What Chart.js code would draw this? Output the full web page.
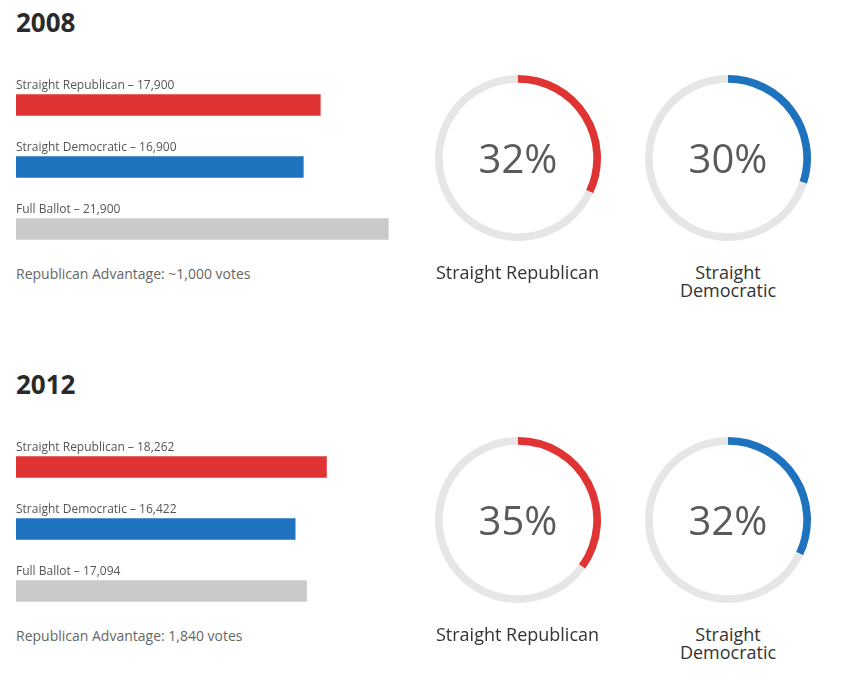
<!DOCTYPE html>
<html>
<head>
<meta charset="utf-8">
<title>Straight Ticket Voting</title>
<script src="https://cdn.jsdelivr.net/npm/chart.js@4.4.1/dist/chart.umd.min.js"></script>
<style>
    html, body { margin: 0; padding: 0; background: #fff; }
    body { font-family: 'Open Sans', sans-serif; width: 862px; height: 679px; overflow: hidden; position: relative; }
    .section { position: absolute; left: 0; width: 862px; height: 362px; }
    .section h2 { position: absolute; left: 16px; top: 9px; margin: 0; font-size: 26px; line-height: 26px; font-weight: 700; color: #2a2a2a; }
    .section canvas { position: absolute; }
    .advantage { position: absolute; left: 16px; top: 267px; font-size: 14px; line-height: 14px; color: #666; white-space: nowrap; }
    .caption { position: absolute; top: 263px; font-size: 18px; line-height: 18px; color: #333; text-align: center; }
</style>
</head>
<body>
<div id="page"></div>
<script>
// values
var years = ['2008', '2012'];
var barCategories = ['Straight Republican', 'Straight Democratic', 'Full Ballot'];
var votes2008 = [17900, 16900, 21900];
var votes2012 = [18262, 16422, 17094];
var advantage = ['~1,000', '1,840'];
var ringLabels = ['Straight Republican', 'Straight Democratic'];
var pct2008 = [32, 30];
var pct2012 = [35, 32];

var RED = '#e03434', BLUE = '#1f73be', GRAY = '#cacaca', TRACK = '#e6e6e6';
var barColors = [RED, BLUE, GRAY];
var ringColors = [RED, BLUE];

var sectionTop = [0, 362];
var allVotes = [votes2008, votes2012];
var allPct = [pct2008, pct2012];

// text above each bar: "Straight Republican – 17,900"
var barLabelPlugin = {
    id: 'barLabels',
    afterDatasetsDraw: function (chart) {
        var ctx = chart.ctx;
        var meta = chart.getDatasetMeta(0);
        var values = chart.data.datasets[0].data;
        ctx.save();
        ctx.font = '12px "Open Sans"';
        ctx.fillStyle = '#555';
        ctx.textAlign = 'left';
        ctx.textBaseline = 'alphabetic';
        for (var i = 0; i < meta.data.length; i++) {
            var bar = meta.data[i].getProps(['y', 'height'], true);
            var txt = chart.data.labels[i] + ' \u2013 ' + values[i].toLocaleString('en-US');
            ctx.fillText(txt, chart.chartArea.left, bar.y - bar.height / 2 - 6);
        }
        ctx.restore();
    }
};

// percentage in the middle of a ring
var centerTextPlugin = {
    id: 'centerText',
    afterDraw: function (chart) {
        var ctx = chart.ctx;
        var arc = chart.getDatasetMeta(0).data[0];
        var pct = chart.data.datasets[0].data[0];
        ctx.save();
        ctx.font = '40px "Open Sans"';
        ctx.fillStyle = '#5a5a5a';
        ctx.textAlign = 'center';
        ctx.textBaseline = 'alphabetic';
        ctx.fillText(pct + '%', arc.x, arc.y + 14.5);
        ctx.restore();
    }
};

function makeCanvas(parent, left, top, w, h) {
    var c = document.createElement('canvas');
    c.width = w;
    c.height = h;
    c.style.left = left + 'px';
    c.style.top = top + 'px';
    c.style.width = w + 'px';
    c.style.height = h + 'px';
    parent.appendChild(c);
    return c;
}

function createBars(parent, votes) {
    var canvas = makeCanvas(parent, 16, 74, 425, 186);
    new Chart(canvas.getContext('2d'), {
        type: 'bar',
        data: {
            labels: barCategories,
            datasets: [{ data: votes, backgroundColor: barColors, borderWidth: 0, barThickness: 21 }]
        },
        options: {
            indexAxis: 'y',
            responsive: false,
            animation: false,
            layout: { padding: 0 },
            plugins: { legend: { display: false }, tooltip: { enabled: false } },
            scales: {
                x: { display: false, min: 0, max: 25000 },
                y: { display: false }
            }
        },
        plugins: [barLabelPlugin]
    });
}

function createRing(parent, cx, pct, color) {
    var size = 172;
    var canvas = makeCanvas(parent, cx - size / 2, 158 - size / 2, size, size);
    new Chart(canvas.getContext('2d'), {
        type: 'doughnut',
        data: {
            labels: ['share', 'rest'],
            datasets: [{ data: [pct, 100 - pct], backgroundColor: [color, TRACK], borderWidth: 0 }]
        },
        options: {
            responsive: false,
            animation: false,
            radius: 83,
            cutout: 78,
            plugins: { legend: { display: false }, tooltip: { enabled: false } }
        },
        plugins: [centerTextPlugin]
    });
}

var page = document.getElementById('page');
var ringCenters = [517.5, 728];
var captionWidths = [200, 130];

for (var s = 0; s < years.length; s++) {
    var sec = document.createElement('div');
    sec.className = 'section';
    sec.style.top = sectionTop[s] + 'px';
    page.appendChild(sec);

    var h = document.createElement('h2');
    h.textContent = years[s];
    sec.appendChild(h);

    createBars(sec, allVotes[s]);

    var adv = document.createElement('div');
    adv.className = 'advantage';
    adv.textContent = 'Republican Advantage: ' + advantage[s] + ' votes';
    sec.appendChild(adv);

    for (var r = 0; r < ringLabels.length; r++) {
        createRing(sec, ringCenters[r], allPct[s][r], ringColors[r]);
        var cap = document.createElement('div');
        cap.className = 'caption';
        cap.style.width = captionWidths[r] + 'px';
        cap.style.left = (ringCenters[r] - captionWidths[r] / 2) + 'px';
        cap.textContent = ringLabels[r];
        sec.appendChild(cap);
    }
}
</script>
</body>
</html>
